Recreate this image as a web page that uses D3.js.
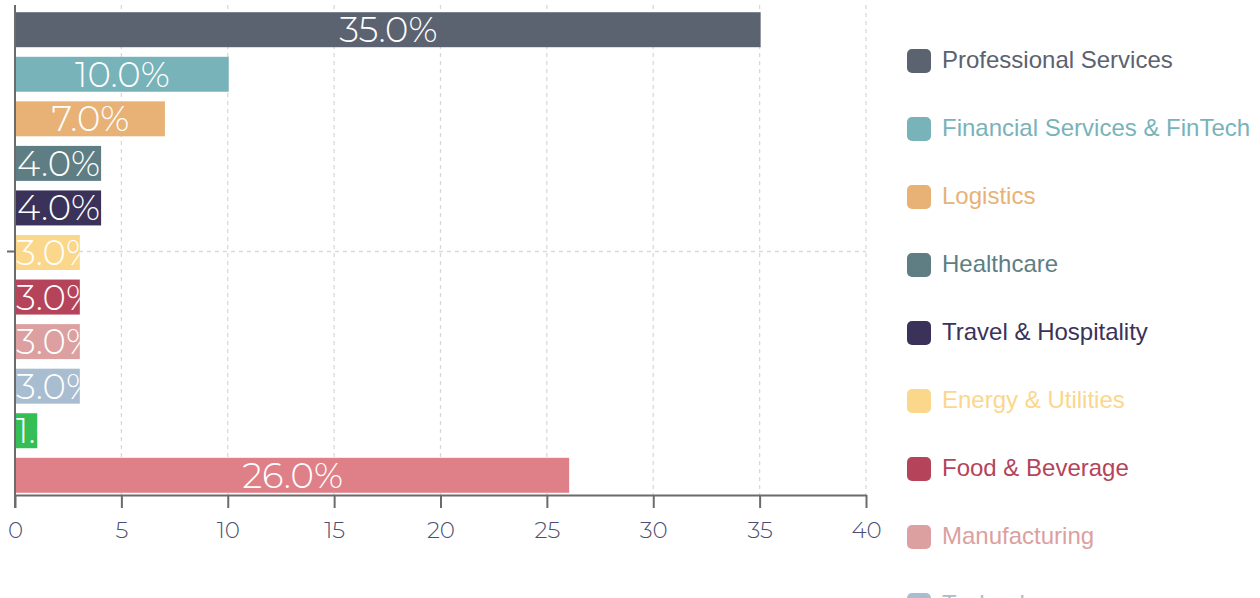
<!DOCTYPE html>
<html>
<head>
<meta charset="utf-8">
<script src="https://cdn.jsdelivr.net/npm/d3@7"></script>
<style>
  html, body { margin: 0; padding: 0; background: #fff; overflow: hidden; }
  svg { display: block; }
</style>
</head>
<body>
<svg id="chart" width="1260" height="598"></svg>
<script>
// Share of clients by industry (%)
const categories = [
  "Professional Services",
  "Financial Services & FinTech",
  "Logistics",
  "Healthcare",
  "Travel & Hospitality",
  "Energy & Utilities",
  "Food & Beverage",
  "Manufacturing",
  "Technology",
  "Retail",
  "Other"
];
const values = [35, 10, 7, 4, 4, 3, 3, 3, 3, 1, 26];
const colors = [
  "#5b6270", "#78b3ba", "#e8b277", "#5e7e84", "#3b325a",
  "#fbd78b", "#b5445a", "#dca0a0", "#a8bdd0", "#35be55", "#df8088"
];
const xTicks = [0, 5, 10, 15, 20, 25, 30, 35, 40];

const data = categories.map((c, i) => ({ name: c, value: values[i], color: colors[i] }));

const svg = d3.select("#chart");
const plotLeft = 15, plotRight = 866, plotTop = 10, plotBottom = 495;

const x = d3.scaleLinear().domain([0, 40]).range([plotLeft, plotRight]);
const y = d3.scaleBand()
  .domain(categories)
  .range([plotTop, plotBottom])
  .paddingInner(0.215)
  .paddingOuter(0.05);

const labelFont = "Montserrat, Lato, 'Open Sans', sans-serif";

// vertical dashed grid
svg.append("g")
  .selectAll("line")
  .data(xTicks.slice(1))
  .join("line")
  .attr("x1", d => x(d)).attr("x2", d => x(d))
  .attr("y1", 5).attr("y2", plotBottom)
  .attr("stroke", "#d9d9d9")
  .attr("stroke-width", 1.3)
  .attr("stroke-dasharray", "4,4");

// single horizontal dashed grid line at the middle of the band range
const midY = (plotTop + plotBottom) / 2 - 1;
svg.append("line")
  .attr("x1", plotLeft).attr("x2", plotRight)
  .attr("y1", midY).attr("y2", midY)
  .attr("stroke", "#d9d9d9")
  .attr("stroke-width", 1.3)
  .attr("stroke-dasharray", "4,4");

// clip paths so labels never spill outside their bar
const defs = svg.append("defs");
defs.selectAll("clipPath")
  .data(data)
  .join("clipPath")
  .attr("id", (d, i) => "clip" + i)
  .append("rect")
  .attr("x", x(0) + 1)
  .attr("y", d => y(d.name))
  .attr("width", d => x(d.value) - x(0))
  .attr("height", y.bandwidth());

// bars
svg.append("g")
  .selectAll("rect")
  .data(data)
  .join("rect")
  .attr("x", x(0) + 1)
  .attr("y", d => y(d.name))
  .attr("width", d => x(d.value) - x(0))
  .attr("height", y.bandwidth())
  .attr("fill", d => d.color);

// value labels: centred when they fit, otherwise starting at the bar's left edge
const labels = svg.append("g")
  .selectAll("text")
  .data(data)
  .join("text")
  .attr("clip-path", (d, i) => `url(#clip${i})`)
  .attr("y", d => y(d.name) + y.bandwidth() / 2 + 12.5)
  .attr("fill", "#fff")
  .attr("font-family", labelFont)
  .attr("font-weight", 300)
  .attr("font-size", 35.5)
  .text(d => d.value.toFixed(1) + "%");

labels.each(function (d) {
  const w = this.getComputedTextLength();
  const x0 = x(0) + 1, x1 = x(d.value) + 1;
  const cx = (x0 + x1) / 2;
  d3.select(this).attr("x", Math.max(x0, cx - w / 2));
});

// x axis
const xAxis = svg.append("g")
  .attr("transform", `translate(0,${plotBottom})`)
  .call(d3.axisBottom(x).tickValues(xTicks).tickSize(13).tickSizeOuter(0).tickPadding(14));
xAxis.select(".domain").attr("stroke", "#6b6b6b").attr("stroke-width", 2);
xAxis.selectAll(".tick line").attr("stroke", "#6b6b6b").attr("stroke-width", 2);
xAxis.selectAll(".tick text")
  .attr("fill", "#4b5072")
  .attr("font-family", labelFont)
  .attr("font-weight", 300)
  .attr("font-size", 23);

// y axis line with its single tick
svg.append("line")
  .attr("x1", plotLeft).attr("x2", plotLeft)
  .attr("y1", 5).attr("y2", plotBottom + 13)
  .attr("stroke", "#6b6b6b").attr("stroke-width", 2);
svg.append("line")
  .attr("x1", plotLeft - 8).attr("x2", plotLeft)
  .attr("y1", midY).attr("y2", midY)
  .attr("stroke", "#6b6b6b").attr("stroke-width", 2);

// legend
const legend = svg.append("g")
  .selectAll("g")
  .data(data)
  .join("g")
  .attr("transform", (d, i) => `translate(907,${61 + i * 68})`);
legend.append("rect")
  .attr("x", 0).attr("y", -12)
  .attr("width", 24).attr("height", 24)
  .attr("rx", 5)
  .attr("fill", d => d.color);
legend.append("text")
  .attr("x", 35).attr("y", 6.5)
  .attr("fill", d => d.color)
  .attr("font-family", "'Liberation Sans', Arial, sans-serif")
  .attr("font-size", 24)
  .text(d => d.name);
</script>
</body>
</html>
